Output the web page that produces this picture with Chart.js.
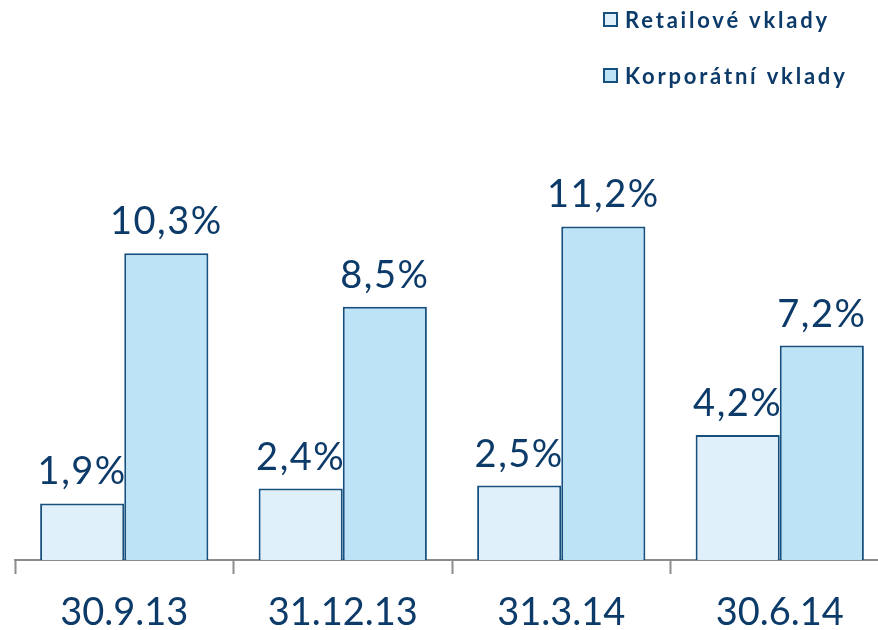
<!DOCTYPE html>
<html>
<head>
<meta charset="utf-8">
<script src="https://cdn.jsdelivr.net/npm/chart.js@4/dist/chart.umd.min.js"></script>
<style>
  html, body { margin: 0; padding: 0; background: #fff; overflow: hidden; }
  #wrap { width: 878px; height: 630px; overflow: hidden; }
</style>
</head>
<body>
<div id="wrap"><canvas id="depositChart" width="890" height="652"></canvas></div>
<script>
// Growth of deposits, year on year (%)
const periods = ['30.9.13', '31.12.13', '31.3.14', '30.6.14'];
const retailDeposits = [1.9, 2.4, 2.5, 4.2];
const corporateDeposits = [10.3, 8.5, 11.2, 7.2];
const seriesNames = ['Retailové vklady', 'Korporátní vklady'];

const colors = {
    navy: '#0d3b69',
    border: '#16507f',
    retail: '#dff0fb',
    corporate: '#bde3f7',
    axis: '#8c8c8c',
};

const fmt = (v) => v.toFixed(1).replace('.', ',') + '%';

// Value labels above every bar
const barLabels = {
    id: 'barLabels',
    afterDatasetsDraw(chart) {
        const ctx = chart.ctx;
        ctx.save();
        ctx.font = '38px Lato';
        ctx.letterSpacing = '1.5px';
        ctx.fillStyle = colors.navy;
        ctx.textAlign = 'center';
        ctx.textBaseline = 'alphabetic';
        chart.data.datasets.forEach((ds, i) => {
            chart.getDatasetMeta(i).data.forEach((bar, j) => {
                ctx.fillText(fmt(ds.data[j]), bar.x, bar.y - 19);
            });
        });
        ctx.restore();
    }
};

// Two-row legend in the top right corner
const stackedLegend = {
    id: 'stackedLegend',
    afterDraw(chart) {
        const ctx = chart.ctx;
        ctx.save();
        ctx.font = 'bold 22px Lato';
        ctx.letterSpacing = '2.8px';
        ctx.textBaseline = 'middle';
        chart.data.datasets.forEach((ds, i) => {
            const y = 20 + i * 56;
            ctx.fillStyle = ds.backgroundColor;
            ctx.strokeStyle = ds.borderColor;
            ctx.lineWidth = 2;
            ctx.fillRect(604, y - 7, 13, 13);
            ctx.strokeRect(604, y - 7, 13, 13);
            ctx.fillStyle = colors.navy;
            ctx.fillText(ds.label, 625, y + 1);
        });
        ctx.restore();
    }
};

new Chart(document.getElementById('depositChart'), {
    type: 'bar',
    data: {
        labels: periods,
        datasets: [{
            label: seriesNames[0],
            data: retailDeposits,
            backgroundColor: colors.retail,
            borderColor: colors.border,
            borderWidth: 2,
        }, {
            label: seriesNames[1],
            data: corporateDeposits,
            backgroundColor: colors.corporate,
            borderColor: colors.border,
            borderWidth: 2,
        }]
    },
    options: {
        responsive: false,
        animation: false,
        datasets: {
            bar: { categoryPercentage: 0.77, barPercentage: 1 }
        },
        layout: { padding: { left: 15, right: 1, top: 0, bottom: 0 } },
        plugins: {
            legend: { display: false },
            tooltip: { enabled: false },
        },
        scales: {
            x: {
                grid: {
                    offset: true,
                    drawOnChartArea: false,
                    drawTicks: true,
                    tickLength: 14,
                    tickWidth: 2,
                    tickColor: colors.axis,
                },
                border: { display: true, color: colors.axis, width: 2 },
                ticks: {
                    color: colors.navy,
                    padding: 20,
                    font: { family: 'Lato', size: 38, lineHeight: 1 },
                },
            },
            y: {
                display: false,
                min: 0,
                max: 18.8,
            }
        }
    },
    plugins: [barLabels, stackedLegend]
});
</script>
</body>
</html>
